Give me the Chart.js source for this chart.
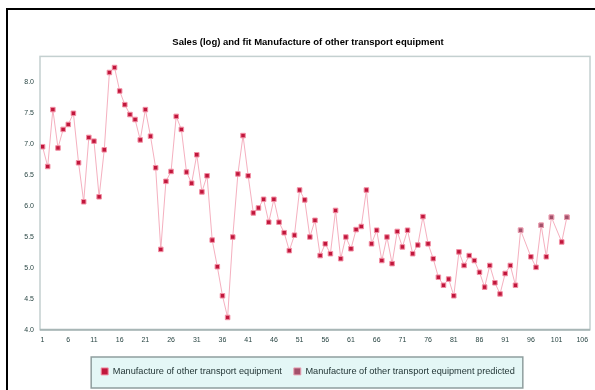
<!DOCTYPE html>
<html>
<head>
<meta charset="utf-8">
<script src="https://cdn.jsdelivr.net/npm/chart.js@4.4.0/dist/chart.umd.min.js"></script>
<style>
  html, body { margin: 0; padding: 0; background: #fff; }
  #wrap { width: 595px; height: 390px; }
</style>
</head>
<body>
<div id="wrap"><canvas id="salesChart" width="595" height="390"></canvas></div>
<script>
// periods 1..107, a label is shown on every 5th one
var periods = [];
for (var p = 1; p <= 107; p++) periods.push(String(p));

// log sales, actual values
var actualSales = [
  6.96, 6.64, 7.56, 6.94, 7.24, 7.32, 7.50, 6.70, 6.07, 7.11,
  7.05, 6.15, 6.91, 8.16, 8.24, 7.86, 7.64, 7.48, 7.40, 7.07,
  7.56, 7.13, 6.62, 5.30, 6.40, 6.56, 7.45, 7.24, 6.55, 6.37,
  6.83, 6.23, 6.49, 5.45, 5.02, 4.55, 4.20, 5.50, 6.52, 7.14,
  6.49, 5.89, 5.97, 6.11, 5.74, 6.11, 5.74, 5.57, 5.28, 5.53,
  6.26, 6.10, 5.50, 5.77, 5.20, 5.39, 5.23, 5.93, 5.15, 5.50,
  5.31, 5.62, 5.67, 6.26, 5.39, 5.61, 5.12, 5.50, 5.07, 5.59,
  5.34, 5.61, 5.23, 5.37, 5.83, 5.39, 5.15, 4.85, 4.72, 4.82,
  4.55, 5.26, 5.04, 5.20, 5.12, 4.93, 4.69, 5.04, 4.76, 4.58,
  4.91, 5.04, 4.72, 5.61, null, 5.18, 5.01, 5.69, 5.18, 5.82,
  null, 5.42, 5.82
];

// predicted values (only the last periods)
var predictedSales = [];
for (var q = 0; q < 93; q++) predictedSales.push(null);
predictedSales = predictedSales.concat([5.61, null, null, null, 5.69, null, 5.82, null, null, 5.82]);

// y axis ticks
var yMin = 4.0;
var yMax = 8.42;
var yStep = 0.5;
var yLastTick = 8.0;

var seriesNames = [
  'Manufacture of other transport equipment',
  'Manufacture of other transport equipment predicted'
];

// white page, black frame on the left/top, border round the plot area
var framePlugin = {
  id: 'frame',
  beforeDraw: function(chart) {
    var ctx = chart.ctx;
    ctx.save();
    ctx.fillStyle = '#ffffff';
    ctx.fillRect(0, 0, chart.width, chart.height);

    // legend box
    var boxes = chart.legend.legendHitBoxes;
    if (boxes && boxes.length) {
      var l = boxes[0].left, r = 0;
      boxes.forEach(function(b) {
        l = Math.min(l, b.left);
        r = Math.max(r, b.left + b.width);
      });
      ctx.fillStyle = '#e4f7f6';
      ctx.fillRect(l - 10, 357, r - l + 18, 31);
      ctx.strokeStyle = '#8f9e9e';
      ctx.lineWidth = 1.5;
      ctx.strokeRect(l - 10, 357, r - l + 18, 31);
    }
    ctx.restore();
  },
  afterDraw: function(chart) {
    var ctx = chart.ctx;
    var a = chart.chartArea;
    ctx.save();
    ctx.strokeStyle = '#c4d0d0';
    ctx.lineWidth = 1.5;
    ctx.strokeRect(a.left, a.top, a.right - a.left, a.bottom - a.top);
    ctx.strokeStyle = '#a8b6b6';
    ctx.lineWidth = 2;
    ctx.beginPath();
    ctx.moveTo(a.left, a.bottom);
    ctx.lineTo(a.right, a.bottom);
    ctx.stroke();

    ctx.strokeStyle = '#000000';
    ctx.lineWidth = 2;
    ctx.beginPath();
    ctx.moveTo(7, chart.height);
    ctx.lineTo(7, 9);
    ctx.lineTo(chart.width, 9);
    ctx.stroke();
    ctx.restore();
  }
};

var ctx = document.getElementById('salesChart');
var salesChart = new Chart(ctx, {
  type: 'line',
  data: {
    labels: periods,
    datasets: [{
      label: seriesNames[0],
      data: actualSales,
      borderColor: '#f5b0bf',
      borderWidth: 1,
      pointStyle: 'rect',
      pointRadius: 3.2,
      pointBackgroundColor: '#c0173c',
      pointBorderColor: '#f390a5',
      pointBorderWidth: 1,
      spanGaps: true,
      tension: 0,
      order: 2
    }, {
      label: seriesNames[1],
      data: predictedSales,
      showLine: false,
      borderColor: '#f0b4c2',
      borderWidth: 1,
      pointStyle: 'rect',
      pointRadius: 3.2,
      pointBackgroundColor: '#a3506a',
      pointBorderColor: '#e8a0b2',
      pointBorderWidth: 1,
      order: 1
    }]
  },
  options: {
    responsive: false,
    animation: false,
    layout: { padding: { left: 24, right: 3, top: 0, bottom: 4 } },
    plugins: {
      title: {
        display: true,
        text: 'Sales (log) and fit Manufacture of other transport equipment',
        color: '#000',
        font: { family: 'Liberation Sans', size: 9.5, weight: 'bold' },
        padding: { top: 37, bottom: 8 }
      },
      legend: {
        position: 'bottom',
        labels: {
          usePointStyle: true,
          boxWidth: 7,
          boxHeight: 7,
          padding: 12,
          color: '#1d3030',
          font: { family: 'Liberation Sans', size: 9.2 },
          sort: function(a, b) { return a.datasetIndex - b.datasetIndex; }
        }
      },
      tooltip: { enabled: false }
    },
    scales: {
      x: {
        type: 'category',
        offset: true,
        grid: { display: false, drawTicks: false },
        border: { display: false },
        afterFit: function(scale) { scale.height = 25; },
        ticks: {
          autoSkip: false,
          maxRotation: 0,
          padding: 6,
          color: '#2a4644',
          font: { family: 'Liberation Sans', size: 7 },
          callback: function(value, index) {
            return index % 5 === 0 ? periods[index] : null;
          }
        }
      },
      y: {
        min: yMin,
        max: yMax,
        grid: { display: false, drawTicks: false },
        border: { display: false },
        afterFit: function(scale) { scale.width = 16; },
        afterBuildTicks: function(scale) {
          scale.ticks = scale.ticks.filter(function(t) { return t.value <= yLastTick + 1e-9; });
        },
        ticks: {
          stepSize: yStep,
          padding: 6,
          color: '#2a4644',
          font: { family: 'Liberation Sans', size: 7 },
          callback: function(v) { return v.toFixed(1); }
        }
      }
    }
  },
  plugins: [framePlugin]
});
</script>
</body>
</html>
